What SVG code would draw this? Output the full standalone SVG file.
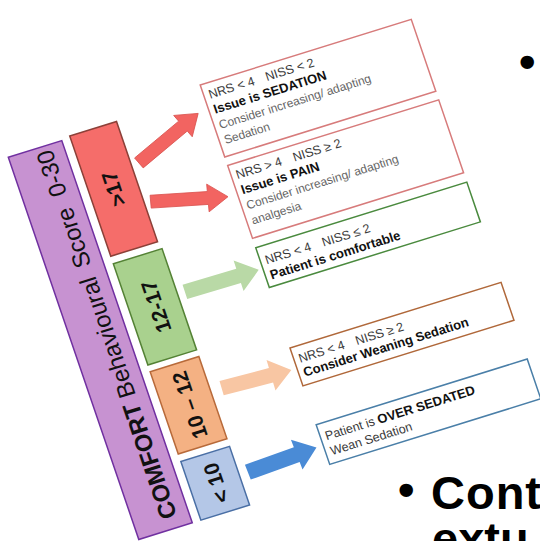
<svg xmlns="http://www.w3.org/2000/svg" width="540" height="541" viewBox="0 0 540 541">
<style>
  .lbl{font-family:"Liberation Sans",Arial,sans-serif;font-weight:bold;fill:#111;font-size:21px;text-anchor:middle}
  .t{font-family:"Liberation Sans",Arial,sans-serif;font-size:12.5px;fill:#3a3a3a}
  .b{font-weight:bold;fill:#111;font-size:13px}
  .g{fill:#666;font-size:12px}
  .box{fill:#fff;stroke-width:1.5}
  .slide{font-family:"Liberation Sans",Arial,sans-serif;font-weight:bold;font-size:47px;fill:#000}
</style>
<rect width="540" height="541" fill="#fff"/>

<!-- tilted score chart: drawn upright, then skewed/rotated into place -->
<g transform="matrix(0.955,-0.297,0.323,0.946,8.3,157.3)">
  <g id="scale">
    <rect x="0" y="0" width="56" height="404" fill="#c792d1" stroke="#7030a0" stroke-width="1.5"/>
    <text transform="translate(44,393) rotate(-90)" font-family="Liberation Sans, Arial, sans-serif" font-size="24" fill="#111"><tspan font-weight="bold">COMFORT</tspan> Behavioural<tspan dx="4"> Score</tspan><tspan dx="6"> 0-30</tspan></text>
  </g>
  <g id="band-high">
    <rect x="65" y="-2" width="49" height="127" fill="#f56d6a" stroke="#8c4038" stroke-width="1.5"/>
    <text class="lbl" transform="translate(97,61.5) rotate(-90)">&gt;17</text>
  </g>
  <g id="band-ok">
    <rect x="65" y="133" width="51" height="107" fill="#a9d18e" stroke="#548235" stroke-width="1.5"/>
    <text class="lbl" transform="translate(99,186.5) rotate(-90)">12-17</text>
  </g>
  <g id="band-low">
    <rect x="65" y="247" width="51" height="87" fill="#f4b183" stroke="#b86a3a" stroke-width="1.5"/>
    <text class="lbl" transform="translate(99,290.5) rotate(-90)">10 – 12</text>
  </g>
  <g id="band-min">
    <rect x="65" y="342" width="51" height="62" fill="#b4c7e7" stroke="#4a6fa5" stroke-width="1.5"/>
    <text class="lbl" transform="translate(99,373) rotate(-90)">&lt; 10</text>
  </g>

  <g id="box-sedation">
    <rect class="box" x="205" y="-12" width="221" height="76" stroke="#d77b7b"/>
    <text class="t" x="210" y="4">NRS &lt; 4<tspan dx="12">NISS &lt; 2</tspan></text>
    <text class="t b" x="210" y="20">Issue is SEDATION</text>
    <text class="t g" x="210" y="36">Consider increasing/ adapting</text>
    <text class="t g" x="210" y="52">Sedation</text>
  </g>
  <g id="box-pain">
    <rect class="box" x="205" y="73" width="221" height="77" stroke="#d77b7b"/>
    <text class="t" x="210" y="89">NRS &gt; 4<tspan dx="12">NISS ≥ 2</tspan></text>
    <text class="t b" x="210" y="105">Issue is PAIN</text>
    <text class="t g" x="210" y="121">Consider increasing/ adapting</text>
    <text class="t g" x="210" y="137">analgesia</text>
  </g>
  <g id="box-comfortable">
    <rect class="box" x="205" y="160" width="221" height="42" stroke="#4a8a3e"/>
    <text class="t" x="210" y="179">NRS &lt; 4<tspan dx="12">NISS ≤ 2</tspan></text>
    <text class="t b" x="210" y="195">Patient is comfortable</text>
  </g>
  <g id="box-weaning">
    <rect class="box" x="205" y="266" width="221" height="40" stroke="#b0683a"/>
    <text class="t" x="210" y="283">NRS &lt; 4<tspan dx="12">NISS ≥ 2</tspan></text>
    <text class="t b" x="210" y="298">Consider Weaning Sedation</text>
  </g>
  <g id="box-oversedated">
    <rect class="box" x="205" y="347" width="221" height="42" stroke="#4a7fa8"/>
    <text class="t" x="210" y="365">Patient is <tspan class="b">OVER SEDATED</tspan></text>
    <text class="t" x="210" y="381">Wean Sedation</text>
  </g>

  <g id="connectors">
    <path transform="translate(121.8,44.2) rotate(-22.4)" d="M0,-6.5 L58,-6.5 L58,-14 L78,0 L58,14 L58,6.5 L0,6.5 Z" fill="#f26461" stroke="#d9534f" stroke-width="0.8"/>
    <path transform="translate(120.4,84.7) rotate(13.7)" d="M0,-6.5 L57,-6.5 L57,-14 L77,0 L57,14 L57,6.5 L0,6.5 Z" fill="#f26461" stroke="#d9534f" stroke-width="0.8"/>
    <path transform="translate(123.7,181) rotate(0.7)" d="M0,-7.5 L56,-7.5 L56,-16 L77,0 L56,16 L56,7.5 L0,7.5 Z" fill="#b9d9a6"/>
    <path transform="translate(127.3,284) rotate(2.6)" d="M0,-7.5 L51,-7.5 L51,-16 L72,0 L51,16 L51,7.5 L0,7.5 Z" fill="#f8c6a3"/>
    <path transform="translate(125,372) rotate(-2.4)" d="M0,-8 L52,-8 L52,-16 L73,0 L52,16 L52,8 L0,8 Z" fill="#4a8bd6"/>
  </g>
</g>

<!-- slide bullet text around the chart -->
<text class="slide" x="519" y="78">•</text>
<text class="slide" x="398" y="506">•</text>
<text class="slide" x="431" y="509" letter-spacing="1">Cont</text>
<text class="slide" x="432" y="555">extu</text>
</svg>
